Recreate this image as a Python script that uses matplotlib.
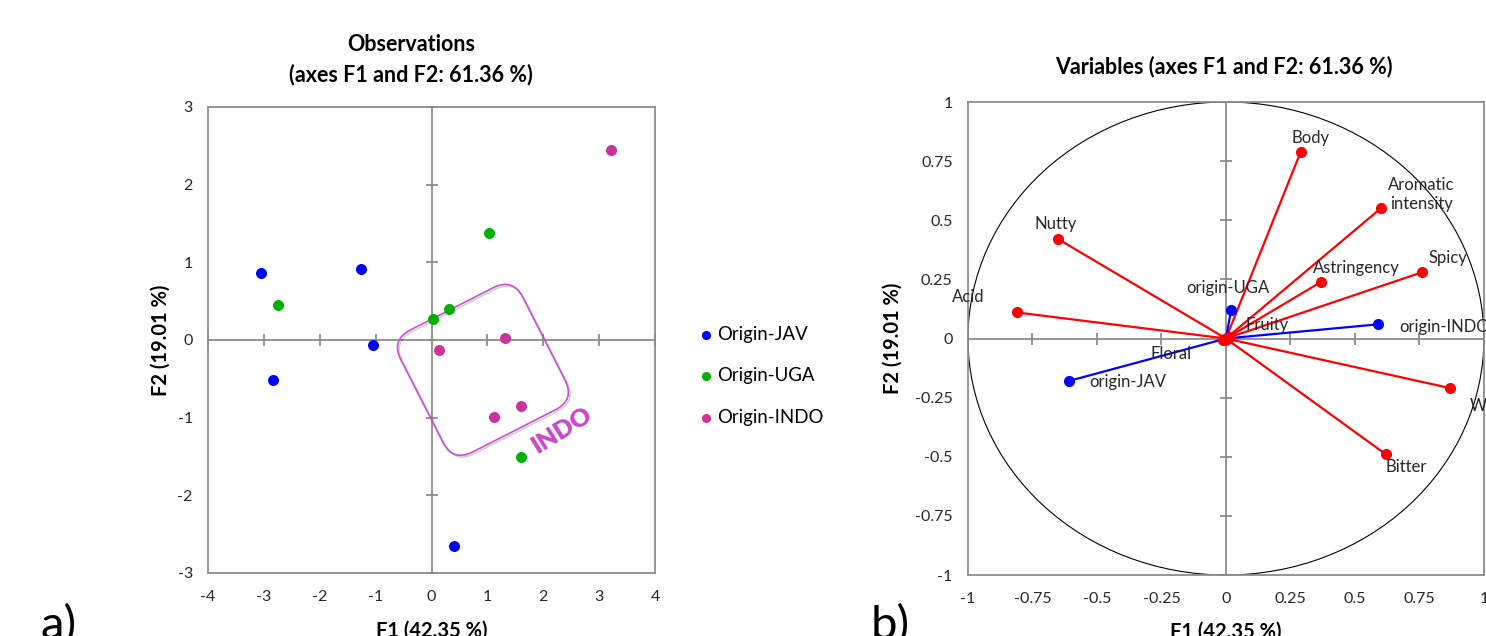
import numpy as np
import matplotlib.pyplot as plt
from matplotlib.patches import FancyBboxPatch, Circle
from matplotlib.transforms import Affine2D, ScaledTranslation
from matplotlib.ticker import FuncFormatter
import matplotlib.patheffects as pe

plt.rcParams['font.family'] = ['Lato', 'DejaVu Sans']
plt.rcParams['axes.unicode_minus'] = False

# observations (F1, F2)
jav_x = [-3.06, -1.26, -1.05, -2.84, 0.41]
jav_y = [0.86, 0.92, -0.07, -0.51, -2.65]
uga_x = [-2.75, 1.02, 0.02, 0.31, 1.60]
uga_y = [0.45, 1.38, 0.27, 0.40, -1.51]
indo_x = [3.21, 1.32, 0.13, 1.11, 1.60]
indo_y = [2.45, 0.02, -0.13, -0.99, -0.85]
obs_labels = ['Origin-JAV', 'Origin-UGA', 'Origin-INDO']

# variables (correlation circle)
var_names = ['Body', 'Aromatic\nintensity', 'Nutty', 'Astringency', 'Spicy',
             'Acid', 'Fruity', 'Floral', 'W', 'Bitter']
var_x = [0.29, 0.60, -0.65, 0.37, 0.76, -0.81, 0.01, -0.01, 0.87, 0.62]
var_y = [0.79, 0.55, 0.42, 0.24, 0.28, 0.11, 0.005, -0.005, -0.21, -0.49]
sup_names = ['origin-UGA', 'origin-INDO', 'origin-JAV']
sup_x = [0.02, 0.59, -0.61]
sup_y = [0.12, 0.06, -0.18]

# label offsets in points (dx, dy, ha)
lab_off = {
    'Body': (7, 10, 'center'), 'Aromatic\nintensity': (29, 10, 'center'),
    'Nutty': (-2, 11, 'center'), 'Astringency': (25, 10, 'center'),
    'Spicy': (19, 10, 'center'), 'Acid': (-35, 11, 'center'),
    'Fruity': (12, 9, 'left'), 'Floral': (-38, -10, 'center'),
    'W': (20, -13, 'center'), 'Bitter': (0, -9, 'left'),
    'origin-UGA': (-2, 16, 'center'), 'origin-INDO': (15, -2, 'left'),
    'origin-JAV': (15, -1, 'left'),
}

grey = '#8c8c8c'
txt = '#262626'
fig = plt.figure(figsize=(14.86, 6.36), dpi=100)


def frame(ax, xt, yt, fmt):
    ax.set_facecolor('none')
    for s in ax.spines.values():
        s.set_color(grey)
        s.set_linewidth(1.3)
    ax.set_xticks(xt)
    ax.set_yticks(yt)
    ax.xaxis.set_major_formatter(FuncFormatter(fmt))
    ax.yaxis.set_major_formatter(FuncFormatter(fmt))
    ax.tick_params(length=0, labelsize=11.5, colors=txt)
    ax.tick_params(axis='x', pad=12)
    ax.tick_params(axis='y', pad=11)
    # zero lines with crossing ticks, drawn underneath
    ov = fig.add_axes(ax.get_position(), sharex=ax, sharey=ax,
                      zorder=ax.get_zorder() - 1)
    for k in ['top', 'right']:
        ov.spines[k].set_visible(False)
    for k in ['left', 'bottom']:
        ov.spines[k].set_position(('data', 0))
        ov.spines[k].set_color(grey)
        ov.spines[k].set_linewidth(1.3)
    ov.tick_params(direction='inout', length=8, width=1.3, color=grey,
                   labelbottom=False, labelleft=False)


# ---- a) observations
ax1 = fig.add_axes([0.140, 0.0991, 0.3008, 0.7327])
ax1.set_xlim(-4, 4)
ax1.set_ylim(-3, 3)
frame(ax1, np.arange(-4, 5), np.arange(-3, 4), lambda v, p: '%d' % v)
ax1.scatter(jav_x, jav_y, s=48, color='#0000ff', label=obs_labels[0], zorder=3)
ax1.scatter(uga_x, uga_y, s=48, color='#00b000', label=obs_labels[1], zorder=3)
ax1.scatter(indo_x, indo_y, s=48, color='#cc3399', label=obs_labels[2], zorder=3)
ax1.set_xlabel('F1 (42.35 %)', fontsize=14.5, weight='bold', va='center')
ax1.xaxis.set_label_coords(0.5, -0.123)
ax1.set_ylabel('F2 (19.01 %)', fontsize=14.5, weight='bold', va='center')
ax1.yaxis.set_label_coords(-0.107, 0.5)
ax1.legend(loc='center left', bbox_to_anchor=(0.456, 0.409),
           bbox_transform=fig.transFigure, frameon=False, fontsize=13.4,
           handletextpad=0.0, labelspacing=1.3, handlelength=1.2,
           markerscale=0.8)

# INDO rounded box (hand drawn annotation)
box = FancyBboxPatch((-0.685, -0.685), 1.37, 1.37,
                     boxstyle='round,pad=0,rounding_size=0.22',
                     fill=False, edgecolor='#c94fd0', linewidth=1.2,
                     transform=Affine2D().rotate_deg(27) + fig.dpi_scale_trans
                     + ScaledTranslation(0.92, -0.385, ax1.transData),
                     path_effects=[pe.SimpleLineShadow(offset=(1.2, -1.2),
                                                       shadow_color='k', alpha=0.18),
                                   pe.Normal()], zorder=2)
ax1.add_patch(box)
ax1.text(2.33, -1.16, 'INDO', rotation=32, color='#cc44cc', fontsize=18,
         weight='heavy', ha='center', va='center', rotation_mode='anchor')

fig.text(0.2766, 0.906, 'Observations\n(axes F1 and F2: 61.36 %)',
         ha='center', va='center', fontsize=15.5, weight='bold',
         linespacing=1.45, color='black')
fig.text(0.027, -0.005, 'a)', fontsize=34, va='baseline', color='black')

# ---- b) variables
ax2 = fig.add_axes([0.6514, 0.0959, 0.3472, 0.7437])
ax2.set_xlim(-1, 1)
ax2.set_ylim(-1, 1)
ticks = np.arange(-1, 1.01, 0.25)
frame(ax2, ticks, ticks, lambda v, p: '%g' % v)
ax2.add_patch(Circle((0, 0), 1, fill=False, color='black', linewidth=0.8))

for nm, x, y in zip(var_names, var_x, var_y):
    ax2.plot([0, x], [0, y], color='#ff0000', linewidth=1.6, zorder=3)
    ax2.plot(x, y, 'o', color='#ff0000', markersize=7, zorder=4)
for nm, x, y in zip(sup_names, sup_x, sup_y):
    ax2.plot([0, x], [0, y], color='#0000ff', linewidth=1.6, zorder=3)
    ax2.plot(x, y, 'o', color='#0000ff', markersize=7, zorder=4)
ax2.plot(0, 0, 'o', color='#ff0000', markersize=8, zorder=5)

for nm, x, y in zip(var_names + sup_names, var_x + sup_x, var_y + sup_y):
    dx, dy, ha = lab_off[nm]
    ax2.annotate(nm, (x, y), xytext=(dx, dy), textcoords='offset points',
                 ha=ha, va='center', fontsize=12, color=txt,
                 linespacing=1.3, annotation_clip=False, zorder=6)

ax2.set_xlabel('F1 (42.35 %)', fontsize=14.5, weight='bold', va='center')
ax2.xaxis.set_label_coords(0.5, -0.12)
ax2.set_ylabel('F2 (19.01 %)', fontsize=14.5, weight='bold', va='center')
ax2.yaxis.set_label_coords(-0.145, 0.5)
fig.text(0.8237, 0.896, 'Variables (axes F1 and F2: 61.36 %)',
         ha='center', va='center', fontsize=15.5, weight='bold', color='black')
fig.text(0.586, -0.005, 'b)', fontsize=34, va='baseline', color='black')

fig.savefig('out.png', dpi=100)
